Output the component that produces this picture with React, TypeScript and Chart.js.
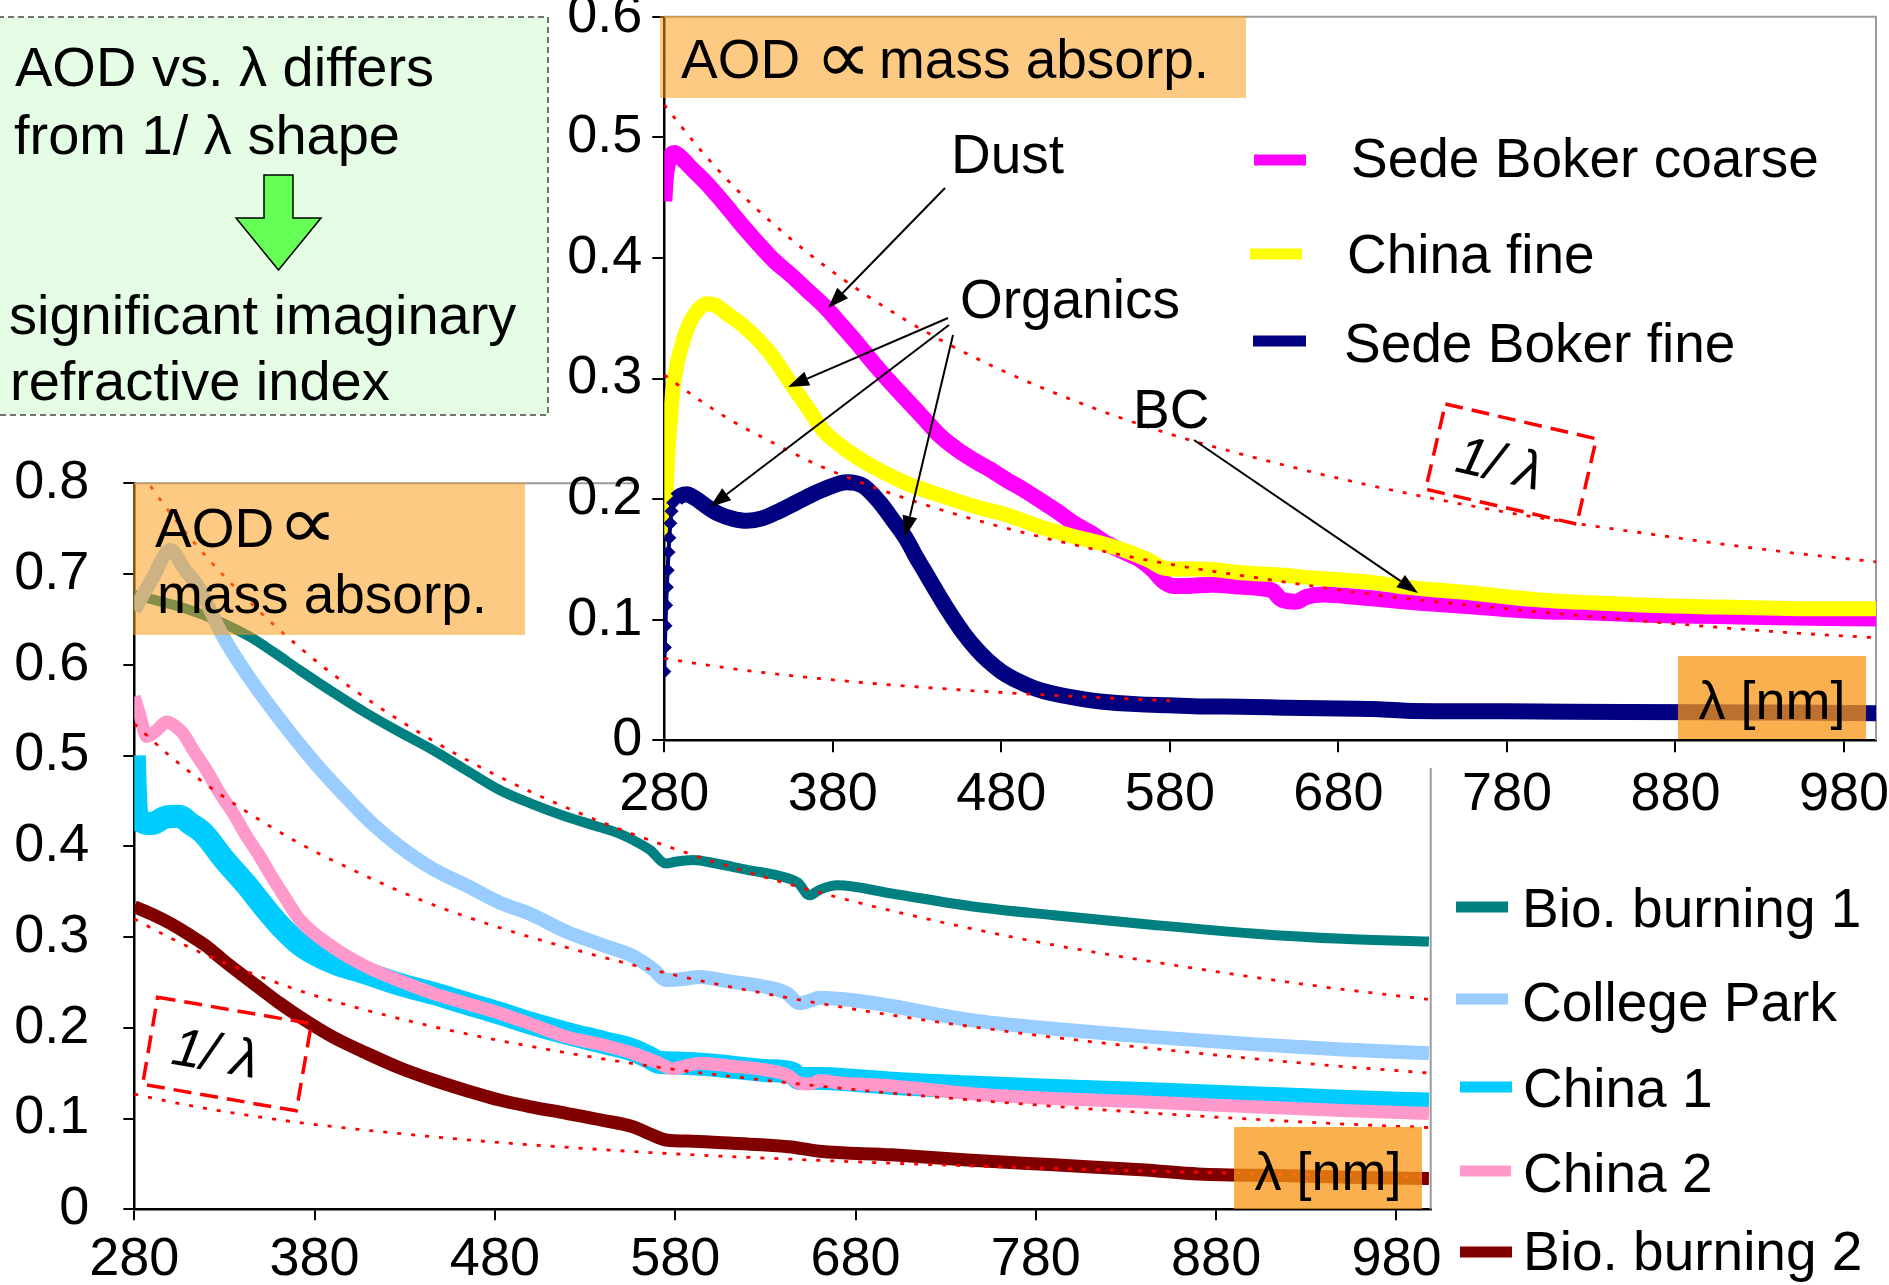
import React, { useEffect, useRef } from "react";
import { Chart, registerables } from "chart.js";

Chart.register(...registerables);

const W = 1889;
const H = 1285;
const FONT = '"Liberation Sans", Arial, Helvetica, sans-serif';

// ---------- tick labels ----------
const xTickValues = [280, 380, 480, 580, 680, 780, 880, 980];
const topYTicks = [0, 0.1, 0.2, 0.3, 0.4, 0.5, 0.6];
const bottomYTicks = [0, 0.1, 0.2, 0.3, 0.4, 0.5, 0.6, 0.7, 0.8];

// ---------- top chart series ----------
const sedeBokerCoarseWl = [280, 281, 283, 286, 290, 297, 305, 315, 325, 335, 345, 355, 365, 375, 384, 394, 404, 414, 424, 434, 444, 454, 464, 474, 483, 493, 503, 513, 523, 533, 543, 553, 563, 570, 576, 582, 590, 605, 622, 635, 641, 646, 655, 661, 671, 690, 720, 760, 794, 830, 868, 905, 941, 970, 999];
const sedeBokerCoarseAod = [0.447, 0.468, 0.482, 0.487, 0.483, 0.473, 0.462, 0.446, 0.429, 0.413, 0.398, 0.386, 0.373, 0.36, 0.346, 0.33, 0.313, 0.297, 0.282, 0.267, 0.252, 0.241, 0.232, 0.224, 0.216, 0.208, 0.199, 0.19, 0.18, 0.172, 0.163, 0.156, 0.149, 0.141, 0.132, 0.128, 0.128, 0.129, 0.1275, 0.126, 0.124, 0.117, 0.115, 0.119, 0.121, 0.119, 0.115, 0.111, 0.1075, 0.106, 0.104, 0.103, 0.102, 0.1015, 0.101];

const chinaFineWl = [280, 281, 282, 283.4, 285, 288, 291.3, 295, 300, 305, 310, 318, 325, 333, 341, 348, 355, 365, 374, 384, 394, 409, 424, 444, 464, 483, 503, 523, 543, 556, 568, 576, 585, 600, 622, 645, 671, 700, 720, 760, 794, 830, 868, 905, 941, 970, 999];
const chinaFineAod = [0.168, 0.2, 0.235, 0.263, 0.29, 0.315, 0.332, 0.346, 0.357, 0.362, 0.361, 0.353, 0.346, 0.336, 0.324, 0.311, 0.296, 0.276, 0.2575, 0.245, 0.235, 0.223, 0.213, 0.203, 0.194, 0.187, 0.177, 0.169, 0.162, 0.156, 0.149, 0.143, 0.142, 0.142, 0.139, 0.137, 0.134, 0.131, 0.127, 0.122, 0.117, 0.114, 0.1117, 0.1105, 0.1095, 0.109, 0.109];

const sedeBokerFineWl = [280, 280.3, 280.7, 281.1, 281.5, 282, 282.5, 283, 283.6, 284.3, 285.3, 287, 290, 293.3, 298, 305, 312, 320, 329, 338, 348, 358, 368, 378, 388, 398, 408, 416, 424, 429, 434, 440, 446, 452, 458, 465, 472, 480, 490, 500, 510, 525, 540, 560, 580, 600, 622, 650, 700, 720, 780, 850, 900, 950, 999];
const sedeBokerFineAod = [0.057, 0.077, 0.095, 0.112, 0.127, 0.141, 0.156, 0.168, 0.18, 0.19, 0.197, 0.2, 0.203, 0.204, 0.201, 0.194, 0.188, 0.184, 0.182, 0.184, 0.19, 0.197, 0.204, 0.21, 0.214, 0.211, 0.197, 0.182, 0.166, 0.153, 0.1413, 0.127, 0.113, 0.1, 0.088, 0.076, 0.066, 0.057, 0.049, 0.043, 0.039, 0.035, 0.032, 0.03, 0.029, 0.028, 0.0279, 0.027, 0.026, 0.0246, 0.024, 0.0235, 0.0232, 0.023, 0.0224];

// 1/lambda reference lines
const refWl = [280, 300, 320, 340, 370, 400, 440, 480, 530, 580, 640, 700, 780, 860, 940, 999];
const topRef1Aod = [0.527, 0.492, 0.461, 0.434, 0.399, 0.369, 0.335, 0.307, 0.278, 0.254, 0.231, 0.211, 0.189, 0.172, 0.157, 0.148];
const topRef2Aod = [0.303, 0.283, 0.265, 0.25, 0.229, 0.212, 0.193, 0.177, 0.16, 0.146, 0.133, 0.121, 0.109, 0.099, 0.09, 0.085];
const topRef3Wl = [280, 300, 320, 340, 370, 400, 440, 480, 530, 580];
const topRef3Aod = [0.068, 0.0635, 0.0595, 0.056, 0.0515, 0.0476, 0.0433, 0.0397, 0.036, 0.0328];

// ---------- bottom chart series ----------
const bioBurning1Wl = [280, 290, 298, 310, 325.7, 344, 358, 371.8, 390, 408.8, 427, 445.7, 464, 482.6, 500, 519.6, 535, 549, 556.5, 566, 575, 580, 590, 602.7, 620, 639.6, 648, 654.4, 660, 670, 700, 744, 790, 844, 900, 950, 998];
const bioBurning1Aod = [0.677, 0.672, 0.668, 0.661, 0.649, 0.631, 0.613, 0.594, 0.57, 0.5466, 0.526, 0.506, 0.484, 0.462, 0.447, 0.4326, 0.423, 0.414, 0.407, 0.396, 0.381, 0.383, 0.385, 0.381, 0.374, 0.3665, 0.36, 0.346, 0.352, 0.357, 0.348, 0.334, 0.324, 0.3136, 0.304, 0.298, 0.295];

const collegeParkWl = [280, 290, 300, 308, 316.4, 329, 344, 362.6, 381, 399.5, 413, 427, 445.7, 464, 482.6, 500, 519.6, 540, 556.5, 568, 575, 585, 593.5, 610, 630.4, 642, 648.9, 655, 660, 680, 700, 744, 790, 844, 900, 950, 998];
const collegeParkAod = [0.66, 0.695, 0.7265, 0.705, 0.683, 0.632, 0.585, 0.535, 0.49, 0.45, 0.423, 0.4, 0.375, 0.357, 0.338, 0.325, 0.306, 0.291, 0.279, 0.264, 0.2527, 0.254, 0.256, 0.251, 0.245, 0.238, 0.227, 0.23, 0.233, 0.23, 0.224, 0.2085, 0.199, 0.19, 0.182, 0.176, 0.172];

const china1Wl = [280, 280.8, 282, 290, 297, 305, 311, 318, 330, 342, 352, 362, 373, 390, 408.8, 427, 445.7, 464, 482.6, 500, 519.6, 540, 556.5, 565, 571, 584, 600, 630, 645, 649, 660, 680, 700, 744, 790, 844, 900, 950, 998];
const china1Aod = [0.5, 0.45, 0.43, 0.425, 0.432, 0.433, 0.425, 0.415, 0.385, 0.358, 0.333, 0.31, 0.29, 0.272, 0.26, 0.248, 0.238, 0.227, 0.216, 0.205, 0.194, 0.184, 0.1755, 0.168, 0.162, 0.161, 0.159, 0.153, 0.15, 0.144, 0.144, 0.142, 0.139, 0.1347, 0.131, 0.1273, 0.123, 0.119, 0.116];

const china2Wl = [280, 283, 287, 292, 298, 303, 307, 313, 320, 327, 335, 342, 349.7, 357, 364.4, 371.8, 390, 408.8, 427, 445.7, 464, 482.6, 500, 519.6, 540, 556.5, 570, 578.7, 586, 593.5, 610, 630.4, 642, 648.9, 655, 660, 670, 700, 744, 790, 844, 900, 950, 998];
const china2Aod = [0.565, 0.545, 0.521, 0.527, 0.537, 0.532, 0.5245, 0.505, 0.484, 0.46, 0.436, 0.412, 0.3885, 0.364, 0.341, 0.319, 0.289, 0.2673, 0.252, 0.238, 0.227, 0.216, 0.204, 0.19, 0.181, 0.172, 0.162, 0.155, 0.158, 0.161, 0.158, 0.1535, 0.148, 0.139, 0.138, 0.142, 0.1395, 0.136, 0.1273, 0.122, 0.1179, 0.113, 0.109, 0.1055];

const bioBurning2Wl = [280, 290, 300, 310, 320, 329, 340, 350, 360, 371.8, 390, 408.8, 427, 445.7, 464, 482.6, 500, 519.6, 540, 556.5, 566, 575, 590, 612, 643, 660, 700, 742, 790, 840.8, 870, 920, 960, 998];
const bioBurning2Aod = [0.3335, 0.325, 0.315, 0.303, 0.29, 0.275, 0.258, 0.243, 0.228, 0.212, 0.19, 0.172, 0.156, 0.1425, 0.131, 0.1204, 0.113, 0.1058, 0.098, 0.091, 0.083, 0.0764, 0.075, 0.0727, 0.069, 0.064, 0.06, 0.0543, 0.049, 0.0433, 0.039, 0.037, 0.035, 0.034];

const bottomRef1Aod = [0.822, 0.767, 0.719, 0.677, 0.622, 0.575, 0.523, 0.479, 0.434, 0.397, 0.36, 0.329, 0.295, 0.268, 0.245, 0.231];
const bottomRef2Aod = [0.535, 0.499, 0.468, 0.441, 0.405, 0.375, 0.34, 0.312, 0.283, 0.258, 0.234, 0.214, 0.192, 0.174, 0.159, 0.15];
const bottomRef3Aod = [0.32, 0.299, 0.28, 0.264, 0.242, 0.224, 0.204, 0.187, 0.169, 0.154, 0.14, 0.128, 0.115, 0.104, 0.095, 0.09];
const bottomRef4Aod = [0.127, 0.1185, 0.111, 0.1046, 0.096, 0.089, 0.081, 0.074, 0.067, 0.061, 0.0556, 0.0508, 0.0456, 0.0413, 0.0378, 0.0356];

// ---------- helpers ----------
const pts = (xs: number[], ys: number[]) => xs.map((x, i) => ({ x, y: ys[i] }));

function series(label: string, xs: number[], ys: number[], color: string, width: number, order: number, extra: any = {}) {
  return {
    label,
    data: pts(xs, ys),
    borderColor: color,
    backgroundColor: color,
    borderWidth: width,
    pointRadius: 0,
    fill: false,
    cubicInterpolationMode: "monotone",
    borderCapStyle: "butt",
    borderJoinStyle: "round",
    order,
    ...extra,
  };
}

function refLine(xs: number[], ys: number[]) {
  return {
    label: "",
    data: pts(xs, ys),
    borderColor: "#ff0000",
    borderWidth: 2.8,
    borderDash: [4, 10],
    pointRadius: 0,
    fill: false,
    cubicInterpolationMode: "monotone",
    order: 0,
  };
}

type Area = { left: number; top: number; right: number; bottom: number };

function makeOptions(area: Area, yMax: number, yTicks: number[], tick: { xl: number; yl: number; xp: number; yp: number; yw: number; xh: number }) {
  const YW = tick.yw;
  const XH = tick.xh;
  return {
    responsive: false,
    maintainAspectRatio: false,
    animation: false,
    devicePixelRatio: 1,
    events: [],
    layout: {
      padding: { left: area.left - YW, top: area.top, right: W - area.right, bottom: H - area.bottom - XH },
    },
    plugins: { legend: { display: false }, tooltip: { enabled: false }, title: { display: false } },
    scales: {
      x: {
        type: "linear",
        min: 280,
        max: 999,
        afterBuildTicks: (s: any) => {
          s.ticks = xTickValues.map((v) => ({ value: v }));
        },
        afterFit: (s: any) => {
          s.height = XH;
          s.paddingLeft = 0;
          s.paddingRight = 0;
        },
        grid: { display: true, drawOnChartArea: false, drawTicks: true, tickLength: tick.xl, color: "#000", lineWidth: 2 },
        border: { display: true, color: "#000", width: 2.5 },
        ticks: {
          color: "#000",
          font: { family: FONT, size: 54 },
          padding: tick.xp,
          maxRotation: 0,
          minRotation: 0,
          autoSkip: false,
          callback: (v: any) => String(v),
        },
      },
      y: {
        type: "linear",
        min: 0,
        max: yMax,
        afterBuildTicks: (s: any) => {
          s.ticks = yTicks.map((v) => ({ value: v }));
        },
        afterFit: (s: any) => {
          s.width = YW;
          s.paddingTop = 0;
          s.paddingBottom = 0;
        },
        grid: { display: true, drawOnChartArea: false, drawTicks: true, tickLength: tick.yl, color: "#000", lineWidth: 2 },
        border: { display: true, color: "#000", width: 2.5 },
        ticks: {
          color: "#000",
          font: { family: FONT, size: 54 },
          padding: tick.yp,
          autoSkip: false,
          callback: (v: any) => String(Math.round(Number(v) * 10) / 10),
        },
      },
    },
  };
}

function drawText(ctx: CanvasRenderingContext2D, s: string, x: number, y: number, size: number, align: CanvasTextAlign = "left", italic = false) {
  ctx.save();
  ctx.font = `${italic ? "italic " : ""}${size}px ${FONT}`;
  ctx.fillStyle = "#000";
  ctx.textAlign = align;
  ctx.textBaseline = "alphabetic";
  ctx.fillText(s, x, y);
  ctx.restore();
}

// proportional sign fitted into an ink box (left, bottom, width, height)
function drawPropSign(ctx: CanvasRenderingContext2D, inkLeft: number, inkBottom: number, inkW: number, inkH: number) {
  ctx.save();
  ctx.font = `100px "DejaVu Sans", ${FONT}`;
  ctx.fillStyle = "#000";
  ctx.textAlign = "left";
  ctx.textBaseline = "alphabetic";
  const m = ctx.measureText("∝");
  const l = m.actualBoundingBoxLeft || 0;
  const r = m.actualBoundingBoxRight || 60;
  const a = m.actualBoundingBoxAscent || 50;
  const d = m.actualBoundingBoxDescent || 0;
  const sx = inkW / Math.max(1, l + r);
  const sy = inkH / Math.max(1, a + d);
  ctx.translate(inkLeft + l * sx, inkBottom - d * sy);
  ctx.scale(sx, sy);
  ctx.fillText("∝", 0, 0);
  ctx.restore();
}

function drawArrow(ctx: CanvasRenderingContext2D, x1: number, y1: number, x2: number, y2: number) {
  const ang = Math.atan2(y2 - y1, x2 - x1);
  const hl = 21;
  const hw = 7.5;
  const bx = x2 - hl * Math.cos(ang);
  const by = y2 - hl * Math.sin(ang);
  ctx.save();
  ctx.strokeStyle = "#000";
  ctx.lineWidth = 2;
  ctx.beginPath();
  ctx.moveTo(x1, y1);
  ctx.lineTo(bx, by);
  ctx.stroke();
  ctx.fillStyle = "#000";
  ctx.beginPath();
  ctx.moveTo(x2, y2);
  ctx.lineTo(bx + hw * Math.sin(ang), by - hw * Math.cos(ang));
  ctx.lineTo(bx - hw * Math.sin(ang), by + hw * Math.cos(ang));
  ctx.closePath();
  ctx.fill();
  ctx.restore();
}

function dashedLambdaBox(ctx: CanvasRenderingContext2D, cx: number, cy: number, w: number, h: number, deg: number, tx: number, ty: number) {
  const a = (deg * Math.PI) / 180;
  ctx.save();
  ctx.translate(cx, cy);
  ctx.rotate(a);
  ctx.strokeStyle = "#ff0000";
  ctx.lineWidth = 3.5;
  ctx.setLineDash([18, 9]);
  ctx.strokeRect(-w / 2, -h / 2, w, h);
  ctx.restore();
  ctx.save();
  ctx.translate(tx, ty);
  ctx.rotate(a);
  ctx.font = `italic 54px ${FONT}`;
  ctx.fillStyle = "#000";
  ctx.textAlign = "center";
  ctx.textBaseline = "middle";
  ctx.fillText("1/ λ", 0, 0);
  ctx.restore();
}

type LegendItem = { label: string; x1: number; x2: number; y: number; tx: number; ty: number };

function drawLegend(ctx: CanvasRenderingContext2D, chart: any, items: LegendItem[]) {
  items.forEach((it) => {
    const ds = chart.data.datasets.find((d: any) => d.label === it.label);
    if (!ds) return;
    ctx.save();
    ctx.strokeStyle = ds.borderColor;
    ctx.lineWidth = 11;
    ctx.lineCap = "butt";
    ctx.beginPath();
    ctx.moveTo(it.x1, it.y);
    ctx.lineTo(it.x2, it.y);
    ctx.stroke();
    ctx.restore();
    drawText(ctx, ds.label, it.tx, it.ty, 55);
  });
}

function drawBorders(chart: any) {
  const { ctx, chartArea: a } = chart;
  ctx.save();
  ctx.strokeStyle = "#9a9a9a";
  ctx.lineWidth = 2;
  ctx.beginPath();
  ctx.moveTo(a.left, a.top);
  ctx.lineTo(a.right, a.top);
  ctx.lineTo(a.right, a.bottom);
  ctx.stroke();
  ctx.restore();
}

const ORANGE_LIGHT = "rgba(252,154,20,0.53)";
const ORANGE_DARK = "rgba(250,150,20,0.75)";

const topLegend: LegendItem[] = [
  { label: "Sede Boker coarse", x1: 1254, x2: 1306, y: 160, tx: 1351, ty: 177 },
  { label: "China fine", x1: 1250, x2: 1302, y: 254, tx: 1347, ty: 273 },
  { label: "Sede Boker fine", x1: 1253, x2: 1306, y: 341, tx: 1344, ty: 362 },
];

const bottomLegend: LegendItem[] = [
  { label: "Bio. burning 1", x1: 1456, x2: 1508, y: 907, tx: 1522, ty: 927 },
  { label: "College Park", x1: 1456, x2: 1508, y: 999, tx: 1522, ty: 1021 },
  { label: "China 1", x1: 1460, x2: 1512, y: 1087, tx: 1523, ty: 1107 },
  { label: "China 2", x1: 1460, x2: 1511, y: 1171, tx: 1523, ty: 1192 },
  { label: "Bio. burning 2", x1: 1460, x2: 1512, y: 1252, tx: 1523, ty: 1270 },
];

const topDecor = {
  id: "topDecor",
  beforeDraw(chart: any) {
    const ctx = chart.ctx;
    ctx.save();
    ctx.fillStyle = "#ffffff";
    ctx.fillRect(638, 0, W - 638, 768);
    ctx.restore();
  },
  beforeDatasetsDraw(chart: any) {
    drawBorders(chart);
  },
  afterDatasetsDraw(chart: any) {
    const ctx: CanvasRenderingContext2D = chart.ctx;
    // orange boxes
    ctx.save();
    ctx.fillStyle = ORANGE_LIGHT;
    ctx.fillRect(660, 16, 586, 82);
    ctx.fillStyle = ORANGE_DARK;
    ctx.fillRect(1678, 656, 188, 83);
    ctx.restore();
    drawText(ctx, "AOD", 681, 78, 55);
    drawPropSign(ctx, 823, 74, 40, 28);
    drawText(ctx, "mass absorp.", 879, 78, 55);
    drawText(ctx, "λ [nm]", 1772, 719, 54, "center");

    // annotations
    drawText(ctx, "Dust", 951, 173, 55);
    drawText(ctx, "Organics", 960, 318, 55);
    drawText(ctx, "BC", 1133, 428, 55);
    drawArrow(ctx, 945, 188, 828, 308);
    drawArrow(ctx, 948, 318, 788, 387);
    drawArrow(ctx, 949, 325, 710, 507);
    drawArrow(ctx, 953, 335, 905, 537);
    drawArrow(ctx, 1194, 440, 1418, 593);
    dashedLambdaBox(ctx, 1511, 464, 155, 87.5, 13, 1499, 466);

    drawLegend(ctx, chart, topLegend);

    // green explanation box
    ctx.save();
    ctx.fillStyle = "#e5fce5";
    ctx.fillRect(-2, 17, 550, 398);
    ctx.strokeStyle = "#444";
    ctx.lineWidth = 1.5;
    ctx.setLineDash([6, 4]);
    ctx.strokeRect(-2, 17, 550, 398);
    ctx.setLineDash([]);
    ctx.beginPath();
    ctx.moveTo(264, 175);
    ctx.lineTo(293, 175);
    ctx.lineTo(293, 218);
    ctx.lineTo(321, 218);
    ctx.lineTo(278.5, 270);
    ctx.lineTo(236, 218);
    ctx.lineTo(264, 218);
    ctx.closePath();
    ctx.fillStyle = "#66ff55";
    ctx.fill();
    ctx.strokeStyle = "#000";
    ctx.lineWidth = 1.5;
    ctx.stroke();
    ctx.restore();
    drawText(ctx, "AOD vs. λ differs", 15, 86, 56);
    drawText(ctx, "from 1/ λ shape", 14, 154, 56);
    drawText(ctx, "significant imaginary", 9, 334, 56);
    drawText(ctx, "refractive index", 10, 400, 56);
  },
};

const bottomDecor = {
  id: "bottomDecor",
  beforeDatasetsDraw(chart: any) {
    drawBorders(chart);
  },
  afterDatasetsDraw(chart: any) {
    const ctx: CanvasRenderingContext2D = chart.ctx;
    ctx.save();
    ctx.fillStyle = ORANGE_LIGHT;
    ctx.fillRect(133, 483, 392, 152);
    ctx.fillStyle = ORANGE_DARK;
    ctx.fillRect(1234, 1127, 188, 82);
    ctx.restore();
    drawText(ctx, "AOD", 155, 547, 55);
    drawPropSign(ctx, 286, 540, 43, 28);
    drawText(ctx, "mass absorp.", 157, 613, 55);
    drawText(ctx, "λ [nm]", 1328, 1190, 54, "center");
    dashedLambdaBox(ctx, 227, 1054, 156, 88.4, 9.8, 215, 1056);
    drawLegend(ctx, chart, bottomLegend);
  },
};

export default function App() {
  const bottomRef = useRef<HTMLCanvasElement | null>(null);
  const topRef = useRef<HTMLCanvasElement | null>(null);

  useEffect(() => {
    document.body.style.margin = "0";
    document.documentElement.style.overflow = "hidden";
    const charts: Chart[] = [];

    if (bottomRef.current) {
      const datasets: any[] = [
        refLine(refWl, bottomRef1Aod),
        refLine(refWl, bottomRef2Aod),
        refLine(refWl, bottomRef3Aod),
        refLine(refWl, bottomRef4Aod),
        series("Bio. burning 1", bioBurning1Wl, bioBurning1Aod, "#008080", 10, 5),
        series("College Park", collegeParkWl, collegeParkAod, "#99ccff", 14, 4),
        series("China 1", china1Wl, china1Aod, "#00ccff", 23, 3),
        series("China 2", china2Wl, china2Aod, "#ff99cc", 13, 2),
        series("Bio. burning 2", bioBurning2Wl, bioBurning2Aod, "#800000", 13, 1),
      ];
      charts.push(
        new Chart(bottomRef.current, {
          type: "line",
          data: { datasets },
          options: makeOptions({ left: 134.3, top: 483.3, right: 1430.7, bottom: 1209.3 }, 0.8, bottomYTicks, { xl: 11, yl: 11, xp: 7, yp: 34, yw: 134, xh: 75 }) as any,
          plugins: [bottomDecor],
        })
      );
    }

    if (topRef.current) {
      const datasets: any[] = [
        refLine(refWl, topRef1Aod),
        refLine(refWl, topRef2Aod),
        refLine(topRef3Wl, topRef3Aod),
        series("Sede Boker coarse", sedeBokerCoarseWl, sedeBokerCoarseAod, "#ff00ff", 16, 3),
        series("China fine", chinaFineWl, chinaFineAod, "#ffff00", 15, 2),
        series("Sede Boker fine", sedeBokerFineWl, sedeBokerFineAod, "#000080", 16, 1, {
          pointRadius: (c: any) => (c.dataIndex <= 10 ? 6.5 : 0),
          pointStyle: "rectRot",
          pointBackgroundColor: "#000080",
          pointBorderColor: "#000080",
          pointBorderWidth: 1,
          segment: { borderWidth: (c: any) => (c.p1DataIndex <= 11 ? 4 : 16) },
        }),
      ];
      charts.push(
        new Chart(topRef.current, {
          type: "line",
          data: { datasets },
          options: makeOptions({ left: 664.3, top: 16.8, right: 1876, bottom: 740.3 }, 0.6, topYTicks, { xl: 12, yl: 12, xp: 10, yp: 10, yw: 110, xh: 110 }) as any,
          plugins: [topDecor],
        })
      );
    }

    return () => {
      charts.forEach((c) => c.destroy());
    };
  }, []);

  const canvasStyle: React.CSSProperties = { position: "absolute", left: 0, top: 0, width: W, height: H };
  return (
    <div style={{ position: "absolute", left: 0, top: 0, width: W, height: H, background: "#fff", overflow: "hidden" }}>
      <canvas ref={bottomRef} width={W} height={H} style={canvasStyle} />
      <canvas ref={topRef} width={W} height={H} style={canvasStyle} />
    </div>
  );
}
